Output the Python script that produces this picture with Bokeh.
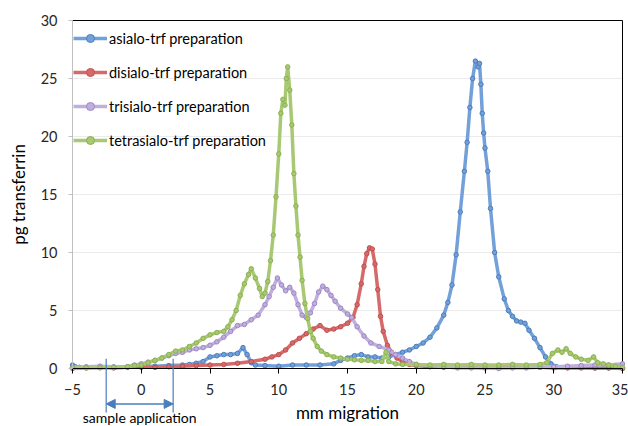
from bokeh.plotting import figure
from bokeh.models import (Range1d, FixedTicker, Legend, LegendItem,
                          Arrow, NormalHead, Label)
from bokeh.embed import file_html
from bokeh.resources import INLINE

# ---------------- data ----------------
asialo_x = [-5, -4.8, -4.5, -4, -3, -2, -1, 0, 1, 2, 3, 3.5, 4, 4.5, 5, 5.5, 6, 6.5, 7, 7.4,
            7.7, 8, 8.3, 9, 10, 11, 12, 13, 14, 14.5, 15, 15.5, 16, 16.5, 17, 17.5, 18, 18.5,
            19, 19.5, 20, 20.5, 21, 21.5, 22, 22.3, 22.6, 22.9, 23.2, 23.5, 23.7, 23.9, 24.1,
            24.3, 24.5, 24.6, 24.7, 24.8, 24.9, 25.0, 25.2, 25.4, 25.7, 26.0, 26.4, 26.7, 27.0,
            27.3, 27.6, 27.9, 28.2, 28.6, 29.0, 29.4, 29.8, 30.2, 31, 32, 33, 34, 35]
asialo_y = [0.3, 0.15, 0.1, 0.1, 0.1, 0.1, 0.15, 0.2, 0.2, 0.25, 0.3, 0.35, 0.45, 0.6, 1.0, 1.1,
            1.2, 1.2, 1.3, 1.8, 1.2, 0.5, 0.3, 0.25, 0.2, 0.3, 0.3, 0.3, 0.4, 0.7, 0.9, 1.1, 1.2,
            1.0, 1.0, 0.9, 1.0, 1.2, 1.4, 1.6, 1.9, 2.2, 2.7, 3.5, 4.6, 5.7, 7.2, 9.8, 13.5, 17.0,
            19.5, 22.5, 25.0, 26.5, 26.0, 26.3, 24.5, 22.0, 20.3, 19.0, 17.0, 13.8, 10.0, 7.9,
            6.0, 5.0, 4.5, 4.1, 4.0, 3.9, 3.3, 2.6, 1.8, 1.0, 0.4, 0.15, 0.1, 0.1, 0.05, 0.05, 0.05]

disialo_x = [-5, -4, -3, -2, -1, 0, 1, 2, 3, 4, 5, 6, 7, 8, 9, 9.5, 10, 10.5, 11, 11.5, 12, 12.5,
             13, 13.5, 14, 14.5, 15, 15.4, 15.7, 16.0, 16.2, 16.4, 16.6, 16.8, 17.0, 17.2, 17.4,
             17.6, 17.9, 18.2, 18.6, 19.0, 19.5, 20, 21, 22, 23, 24, 25, 26, 27, 28, 29, 30, 31,
             32, 33, 34, 35]
disialo_y = [0.0, 0.05, 0.1, 0.05, 0.1, 0.1, 0.1, 0.15, 0.2, 0.25, 0.3, 0.35, 0.45, 0.6, 0.8, 1.0,
             1.2, 1.6, 2.2, 2.6, 3.0, 3.4, 3.7, 3.3, 3.4, 3.6, 3.9, 4.4, 5.5, 7.3, 8.8, 9.9, 10.4,
             10.3, 9.0, 6.8, 4.5, 3.2, 2.0, 1.4, 0.9, 0.6, 0.35, 0.25, 0.15, 0.1, 0.1, 0.1, 0.05,
             0.1, 0.1, 0.1, 0.1, 0.05, 0.05, 0.05, 0.05, 0.05, 0.0]

trisialo_x = [-5, -4, -3, -2, -1, -0.5, 0, 0.5, 1, 1.5, 2, 2.5, 3, 3.5, 4, 4.5, 5, 5.5, 6, 6.5, 7,
              7.5, 8, 8.5, 9, 9.3, 9.6, 9.9, 10.2, 10.5, 10.8, 11.1, 11.4, 11.7, 12.0, 12.3, 12.6,
              12.9, 13.2, 13.5, 13.8, 14.1, 14.5, 15.0, 15.3, 15.7, 16.2, 16.7, 17.3, 18.0, 18.5,
              19.0, 19.5, 20, 21, 22, 23, 24, 25, 26, 27, 28, 29, 30, 31, 32, 33, 34, 35]
trisialo_y = [0.1, 0.15, 0.2, 0.15, 0.15, 0.3, 0.4, 0.55, 0.7, 0.9, 1.1, 1.3, 1.4, 1.6, 1.7, 1.8,
              2.0, 2.3, 2.7, 3.2, 3.7, 3.8, 4.2, 4.6, 5.5, 6.2, 7.0, 7.8, 7.2, 6.7, 7.0, 6.5, 5.5,
              4.6, 4.4, 4.8, 5.6, 6.6, 7.1, 6.8, 6.3, 5.8, 5.2, 4.7, 4.4, 3.6, 2.8, 2.2, 1.9, 1.6,
              1.2, 0.9, 0.6, 0.35, 0.25, 0.15, 0.05, 0.05, 0.05, 0.0, 0.05, 0.05, 0.1, 0.15, 0.2,
              0.25, 0.3, 0.3, 0.4]

tetrasialo_x = [-5, -4, -3, -2, -1, -0.5, 0, 0.5, 1, 1.5, 2, 2.5, 3, 3.5, 4, 4.5, 5, 5.5, 6, 6.3,
                6.6, 6.9, 7.2, 7.5, 7.8, 8.0, 8.3, 8.6, 8.8, 9.0, 9.2, 9.4, 9.6, 9.8, 10.0, 10.15,
                10.3, 10.45, 10.55, 10.65, 10.8, 10.95, 11.1, 11.25, 11.4, 11.55, 11.7, 11.9, 12.1,
                12.3, 12.5, 12.8, 13.1, 13.5, 14, 14.5, 15, 15.5, 16, 16.5, 17, 17.5, 17.8, 18.0,
                18.5, 19, 20, 21, 22, 23, 24, 25, 26, 27, 28, 29, 29.5, 29.9, 30.3, 30.6, 30.9,
                31.2, 31.6, 32, 32.5, 32.9, 33.2, 33.6, 34, 34.5, 35]
tetrasialo_y = [0.05, 0.05, 0.05, 0.1, 0.15, 0.25, 0.3, 0.5, 0.7, 0.9, 1.2, 1.5, 1.6, 1.9, 2.2,
                2.6, 2.9, 3.1, 3.2, 3.6, 4.2, 5.0, 6.3, 7.3, 8.1, 8.6, 7.8, 6.9, 6.2, 6.5, 7.5,
                9.3, 11.5, 14.8, 18.5, 22.0, 23.2, 22.7, 25.0, 26.0, 24.0, 21.0, 16.8, 14.0, 11.5,
                9.6, 7.6, 5.6, 4.3, 3.2, 2.6, 1.9, 1.5, 1.2, 1.0, 0.9, 0.8, 0.75, 0.7, 0.7, 0.6,
                0.6, 1.4, 0.6, 0.4, 0.35, 0.35, 0.3, 0.35, 0.3, 0.35, 0.3, 0.3, 0.35, 0.3, 0.35,
                0.5, 1.3, 1.6, 1.4, 1.7, 1.3, 1.0, 0.8, 0.7, 1.0, 0.5, 0.4, 0.3, 0.2, 0.1]

series_labels = ["asialo-trf preparation", "disialo-trf preparation",
                 "trisialo-trf preparation", "tetrasialo-trf preparation"]

x_ticks = [-5, 0, 5, 10, 15, 20, 25, 30, 35]
y_ticks = [0, 5, 10, 15, 20, 25, 30]
x_min, x_max = -5, 35
y_min, y_max = 0, 30

# sample application bracket (mm along x; drawn below the x axis)
sample_start = -2.55
sample_end = 2.32
sample_label = "sample application"

x_title = "mm migration"
y_title = "pg transferrin"

# ---------------- layout / styling ----------------
W, H = 628, 426
BOX_L, BOX_R, BOX_T, BOX_B = 72, 622, 20, 368      # data box in page pixels
sx = (BOX_R - BOX_L) / (x_max - x_min)
sy = (BOX_B - BOX_T) / (y_max - y_min)
view_x = (x_min - BOX_L / sx, x_max + (W - BOX_R) / sx)
view_y = (y_min - (H - BOX_B) / sy, y_max + BOX_T / sy)

FONT = "Lato"
line_cols = ["#74a0da", "#d66a6a", "#c0afdd", "#a8c874"]
mark_cols = ["#4a7ebb", "#c0504d", "#9d86c6", "#8ab24e"]
BRACKET = "#4a7ebb"

p = figure(width=W, height=H, x_range=Range1d(*view_x), y_range=Range1d(*view_y),
           output_backend="svg", toolbar_location=None,
           min_border_left=0, min_border_right=0, min_border_top=0, min_border_bottom=0)
p.background_fill_color = "white"
p.border_fill_color = "white"
p.outline_line_color = None
p.xgrid.grid_line_color = None
p.ygrid.grid_line_color = None

# horizontal gridlines and top / right border of the data box
grid_y = y_ticks[1:-1]
p.segment(x0=[x_min] * len(grid_y), x1=[x_max] * len(grid_y), y0=grid_y, y1=grid_y,
          line_color="#ebebeb", line_width=1, level="underlay")
p.segment(x0=[x_min, x_max], x1=[x_max, x_max], y0=[y_max, y_min], y1=[y_max, y_max],
          line_color="black", line_width=1)

# axes pinned to the data box
p.xaxis.fixed_location = y_min
p.yaxis.fixed_location = x_min
p.xaxis.bounds = (x_min, x_max)
p.yaxis.bounds = (y_min, y_max)
p.xaxis.ticker = FixedTicker(ticks=x_ticks)
p.yaxis.ticker = FixedTicker(ticks=y_ticks)
p.xaxis.minor_tick_line_color = None
p.yaxis.minor_tick_line_color = None
p.xaxis.major_tick_in = 0
p.xaxis.major_tick_out = 5
p.yaxis.major_tick_in = 0
p.yaxis.major_tick_out = 4
p.xaxis.axis_line_color = "black"
p.xaxis.major_tick_line_color = "black"
p.yaxis.axis_line_color = "#c0c0c0"
p.yaxis.major_tick_line_color = "#c0c0c0"
for ax in (p.xaxis, p.yaxis):
    ax.major_label_text_font = FONT
    ax.major_label_text_font_size = "14.5px"
    ax.major_label_text_color = "#262626"
    ax.axis_label_text_font = FONT
    ax.axis_label_text_font_size = "17px"
    ax.axis_label_text_font_style = "normal"
    ax.axis_label_text_color = "#000000"
p.xaxis.major_label_standoff = 10
p.yaxis.major_label_standoff = 11
p.xaxis.axis_label = x_title
p.yaxis.axis_label = y_title
p.xaxis.axis_label_standoff = 4
p.yaxis.axis_label_standoff = 9

xs_all = [asialo_x, disialo_x, trisialo_x, tetrasialo_x]
ys_all = [asialo_y, disialo_y, trisialo_y, tetrasialo_y]
items = []
for xs, ys, lab, lc, mc in zip(xs_all, ys_all, series_labels, line_cols, mark_cols):
    r1 = p.line(xs, ys, line_color=lc, line_width=3.5)
    r2 = p.scatter(xs, ys, marker="circle", size=4.5, fill_color=lc, line_color=mc, line_width=1)
    items.append(LegendItem(label=lab, renderers=[r1, r2]))

legend = Legend(items=items, location=(BOX_L + 1, 276), margin=0, padding=0,
                spacing=14, glyph_width=34, glyph_height=20, label_height=20,
                label_standoff=2, label_text_font=FONT, label_text_font_size="14.5px",
                label_text_color="#000000", background_fill_alpha=0, border_line_alpha=0)
p.add_layout(legend)

# sample-application bracket below the axis
for bx in (sample_start, sample_end):
    p.add_layout(Arrow(end=None, x_start=bx, y_start=0.85, x_end=bx, y_end=-3.8,
                       line_color=BRACKET, line_width=1.2))
p.add_layout(Arrow(start=NormalHead(size=9, fill_color=BRACKET, line_color=BRACKET),
                   end=NormalHead(size=9, fill_color=BRACKET, line_color=BRACKET),
                   x_start=sample_start, y_start=-3.05, x_end=sample_end, y_end=-3.05,
                   line_color=BRACKET, line_width=1.5))
p.add_layout(Label(x=(sample_start + sample_end) / 2, y=-3.5, text=sample_label,
                   text_align="center", text_baseline="top", text_font=FONT,
                   text_font_size="14px", text_color="#000000"))

open("out.html", "w").write(file_html(p, INLINE))
